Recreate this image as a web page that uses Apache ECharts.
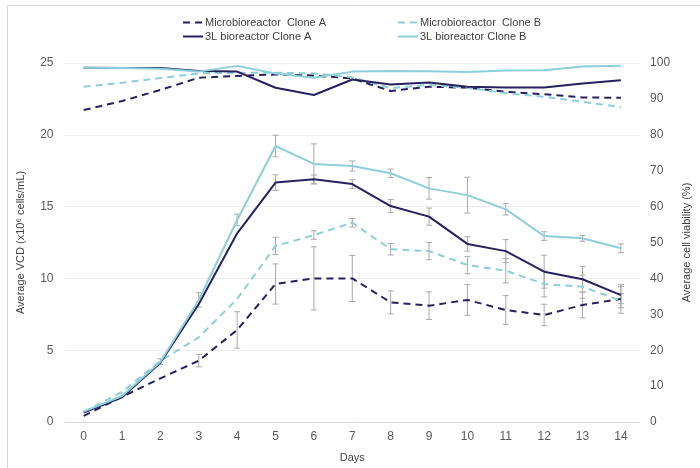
<!DOCTYPE html>
<html>
<head>
<meta charset="utf-8">
<script src="https://cdn.jsdelivr.net/npm/echarts@6/dist/echarts.min.js"></script>
<style>html,body{margin:0;padding:0;background:#fff}#c{width:700px;height:468px}</style>
</head>
<body>
<div id="c"></div>
<script>
var days = ['0','1','2','3','4','5','6','7','8','9','10','11','12','13','14'];
var seriesNames = ['Microbioreactor  Clone A','Microbioreactor  Clone B','3L bioreactor Clone A','3L bioreactor Clone B'];
// Average VCD (x10^6 cells/mL)
var vcdMicroA = [0.42,1.76,3.04,4.27,6.41,9.61,10.0,10.0,8.33,8.1,8.5,7.8,7.45,8.15,8.57];
var vcdMicroB = [0.7,2.1,4.25,5.9,8.57,12.26,13.02,13.88,12.03,11.9,10.93,10.54,9.61,9.42,8.45];
var vcd3LA = [0.65,1.72,4.13,8.22,13.14,16.67,16.9,16.57,15.04,14.3,12.4,11.9,10.47,9.94,8.84];
var vcd3LB = [0.72,1.81,4.2,8.5,14.07,19.22,17.97,17.83,17.32,16.27,15.8,14.81,12.95,12.79,12.1];
// VCD error (+/-)
var errMicroA = [0,0,0,0.43,1.27,1.4,2.2,1.6,0.8,0.96,1.07,1.0,0.75,0.9,1.0];
var errMicroB = [0,0,0,0,0,0.6,0.3,0.3,0.4,0.6,0.6,0.85,0.9,0.8,0.5];
var err3LA = [0,0,0,0,0,0.55,0.3,0.3,0.45,0.6,0.5,0.8,1.15,0.9,0.6];
var err3LB = [0,0,0.2,0.5,0.4,0.75,1.4,0.35,0.3,0.75,1.25,0.4,0.3,0.2,0.3];
// Average cell viability (%)
var viaMicroA = [86.9,89.4,92.5,95.9,96.4,96.8,96.5,95.7,92.2,93.4,93.1,92.0,91.3,90.4,90.3];
var viaMicroB = [93.4,94.5,95.8,97.1,97.3,97.3,97.1,96.0,93.0,93.9,93.1,91.6,90.6,89.2,87.7];
var via3LA = [98.7,98.6,98.6,97.8,97.6,93.1,91.1,95.4,94.0,94.6,93.4,93.2,93.2,94.3,95.2];
var via3LB = [98.7,98.6,98.4,97.6,99.2,97.1,95.9,97.6,97.8,97.7,97.5,97.9,98.0,99.0,99.2];
var leftTicks = {min:0, max:25, interval:5};
var rightTicks = {min:0, max:100, interval:10};

var DARK = '#26215f', LIGHT = '#8dcfd9', ERR = '#a9a9a9';
var FONT = 'Liberation Sans';

function errSeries(vals, errs){
  var data = vals.map(function(v,i){ return [i, v - errs[i], v + errs[i]]; });
  return {
    type:'custom', yAxisIndex:0, silent:true, z:1,
    data: data.filter(function(d,i){ return errs[i] > 0; }),
    encode:{x:0, y:[1,2]},
    renderItem:function(params, api){
      var x = api.value(0);
      var lo = api.coord([x, api.value(1)]);
      var hi = api.coord([x, api.value(2)]);
      var w = 3;
      var st = {stroke:ERR, lineWidth:1};
      return {type:'group', children:[
        {type:'line', shape:{x1:lo[0],y1:lo[1],x2:hi[0],y2:hi[1]}, style:st},
        {type:'line', shape:{x1:lo[0]-w,y1:lo[1],x2:lo[0]+w,y2:lo[1]}, style:st},
        {type:'line', shape:{x1:hi[0]-w,y1:hi[1],x2:hi[0]+w,y2:hi[1]}, style:st}
      ]};
    }
  };
}
function lineSeries(name, data, color, dashed, yi){
  return {
    name:name, type:'line', yAxisIndex:yi, data:data, symbol:'none', z:3,
    lineStyle:{color:color, width:2, type: dashed ? [7,5] : 'solid'},
    itemStyle:{color:color}, emphasis:{disabled:true}
  };
}
function legendAt(name, left, top){
  return {data:[name], left:left, top:top, itemWidth:20, itemHeight:10, itemGap:0,
    itemStyle:{opacity:0, borderWidth:0},
    lineStyle:{width:2},
    textStyle:{fontFamily:FONT, fontSize:11, color:'#404040', padding:[0,0,0,-3]},
    padding:0, selectedMode:false};
}

var chart = echarts.init(document.getElementById('c'), null, {renderer:'canvas'});
chart.setOption({
  animation:false,
  backgroundColor:'#fff',
  textStyle:{fontFamily:FONT},
  graphic:[{type:'rect', shape:{x:7.5,y:5.5,width:700,height:470}, style:{fill:null, stroke:'#d9d9d9', lineWidth:1}, silent:true}],
  legend:[
    legendAt(seriesNames[0], 182, 17),
    legendAt(seriesNames[1], 397, 17),
    legendAt(seriesNames[2], 182, 31),
    legendAt(seriesNames[3], 397, 31)
  ],
  grid:{left:64.5, right:44.3, top:63, bottom:46, containLabel:false},
  xAxis:{
    type:'category', data:days, boundaryGap:true,
    name:'Days', nameLocation:'middle', nameGap:30,
    nameTextStyle:{fontFamily:FONT, fontSize:11, color:'#404040'},
    axisLine:{lineStyle:{color:'#d9d9d9'}}, axisTick:{show:false},
    axisLabel:{fontFamily:FONT, fontSize:12, color:'#595959', margin:9}
  },
  yAxis:[
    {type:'value', min:leftTicks.min, max:leftTicks.max, interval:leftTicks.interval,
     name:'Average VCD (x10\u2076 cells/mL)', nameLocation:'middle', nameGap:38,
     nameTextStyle:{fontFamily:FONT, fontSize:11, color:'#404040'},
     axisLine:{show:false}, axisTick:{show:false},
     axisLabel:{fontFamily:FONT, fontSize:12, color:'#595959', margin:11},
     splitLine:{lineStyle:{color:'#ececec'}}},
    {type:'value', min:rightTicks.min, max:rightTicks.max, interval:rightTicks.interval,
     name:'Average cell viability (%)', nameLocation:'middle', nameGap:36,
     nameTextStyle:{fontFamily:FONT, fontSize:11, color:'#404040'},
     axisLine:{show:false}, axisTick:{show:false},
     axisLabel:{fontFamily:FONT, fontSize:12, color:'#595959', margin:10},
     splitLine:{show:false}}
  ],
  series:[
    errSeries(vcdMicroA, errMicroA),
    errSeries(vcdMicroB, errMicroB),
    errSeries(vcd3LA, err3LA),
    errSeries(vcd3LB, err3LB),
    lineSeries(seriesNames[0], vcdMicroA, DARK, true, 0),
    lineSeries(seriesNames[1], vcdMicroB, LIGHT, true, 0),
    lineSeries(seriesNames[2], vcd3LA, DARK, false, 0),
    lineSeries(seriesNames[3], vcd3LB, LIGHT, false, 0),
    lineSeries(seriesNames[0], viaMicroA, DARK, true, 1),
    lineSeries(seriesNames[1], viaMicroB, LIGHT, true, 1),
    lineSeries(seriesNames[2], via3LA, DARK, false, 1),
    lineSeries(seriesNames[3], via3LB, LIGHT, false, 1)
  ]
});
</script>
</body>
</html>
